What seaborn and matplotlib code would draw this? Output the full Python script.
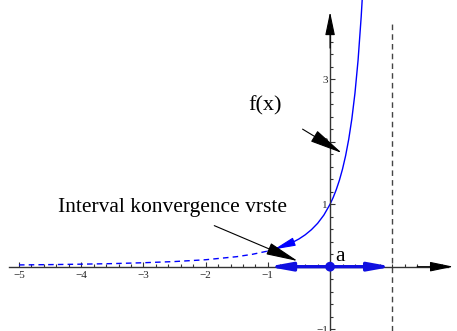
import numpy as np
import pandas as pd
import seaborn as sns
import matplotlib.pyplot as plt
from matplotlib.ticker import FixedLocator

# f(x): dashed left of -1, solid from -1 upward
x_dash = [-5.0, -4.5, -4.0, -3.5, -3.0, -2.5, -2.0, -1.5, -1.25, -1.0]
y_dash = [0.028, 0.033, 0.040, 0.049, 0.063, 0.082, 0.111, 0.160, 0.198, 0.250]
x_solid = [-1.0, -0.9, -0.8, -0.7, -0.6, -0.5, -0.4, -0.3, -0.2, -0.1, 0.0,
           0.05, 0.1, 0.15, 0.2, 0.25, 0.3, 0.35, 0.4, 0.45, 0.5, 0.52]
y_solid = [0.250, 0.277, 0.309, 0.346, 0.391, 0.444, 0.510, 0.592, 0.694, 0.826, 1.0,
           1.108, 1.235, 1.384, 1.563, 1.778, 2.041, 2.367, 2.778, 3.306, 4.0, 4.34]

x_labels = ["\u22125", "\u22124", "\u22123", "\u22122", "\u22121"]
x_major = [-5, -4, -3, -2, -1]
y_major = [-1, 1, 2, 3]
y_labels = ["\u22121", "1", "2", "3"]
centre = 0.0
radius = 1.0

sns.set_theme(style="white")
plt.rcParams["font.family"] = ["Liberation Serif", "DejaVu Serif"]

fig = plt.figure(figsize=(4.57, 3.31), dpi=100)
ax = fig.add_axes([0, 0, 1, 1])
ax.set_xlim(-5.305, 2.04)
ax.set_ylim(-1.03, 4.27)

axis_col = "#333333"
for s in ["top", "right"]:
    ax.spines[s].set_visible(False)
ax.spines["bottom"].set_position(("data", 0))
ax.spines["left"].set_position(("data", 0))
ax.spines["bottom"].set_bounds(-5.16, 1.9)
ax.spines["left"].set_bounds(-1.03, 3.9)
for s in ["bottom", "left"]:
    ax.spines[s].set_color(axis_col)
    ax.spines[s].set_linewidth(1.0)

ax.xaxis.set_major_locator(FixedLocator(x_major))
ax.set_xticklabels(x_labels)
ax.xaxis.set_minor_locator(FixedLocator(np.round(np.arange(-5.0, 1.81, 0.2), 2)))
ax.yaxis.set_major_locator(FixedLocator(y_major))
ax.set_yticklabels(y_labels)
ax.yaxis.set_minor_locator(FixedLocator(np.round(np.arange(-1.0, 3.61, 0.2), 2)))
ax.tick_params(which="major", direction="in", length=3.8, width=0.8, color=axis_col,
               labelsize=8, pad=3)
ax.tick_params(which="minor", direction="in", length=2.4, width=0.8, color=axis_col)
ax.tick_params(axis="y", pad=1.5)
ax.xaxis.set_ticks_position("bottom")
ax.yaxis.set_ticks_position("left")

head_axis = "-|>,head_length=1.2,head_width=0.25"
# axis arrowheads
ax.annotate("", xy=(1.98, 0), xytext=(1.4, 0),
            arrowprops=dict(arrowstyle=head_axis, color="black", lw=0.8,
                            shrinkA=0, shrinkB=0))
ax.annotate("", xy=(0, 4.08), xytext=(0, 3.5),
            arrowprops=dict(arrowstyle=head_axis, color="black", lw=0.8,
                            shrinkA=0, shrinkB=0))

# asymptote / edge of convergence
ax.plot([1, 1], [-1.03, 3.94], color="#444444", lw=1.0, dashes=(4, 3))

# curve
sns.lineplot(x=x_dash, y=y_dash, ax=ax, color="blue", lw=1.0, sort=False)
ax.lines[-1].set_dashes((4, 3))
sns.lineplot(x=x_solid, y=y_solid, ax=ax, color="blue", lw=1.0, sort=False)
ax.annotate("", xy=(x_solid[1], y_solid[1]), xytext=(x_solid[4], y_solid[4]),
            arrowprops=dict(arrowstyle="-|>,head_length=1.1,head_width=0.22",
                            color="blue", lw=0.8, shrinkA=0, shrinkB=0))

# interval of convergence
for end in [centre - radius, centre + radius]:
    ax.annotate("", xy=(end, 0), xytext=(centre, 0),
                arrowprops=dict(arrowstyle="-|>,head_length=1.1,head_width=0.2",
                                color="#1010e0", lw=2.4, shrinkA=0, shrinkB=0))
sns.scatterplot(x=[centre], y=[0], ax=ax, color="#1010e0", s=50, edgecolor="none",
                zorder=5)
ax.text(0.09, 0.09, "a", fontsize=15.5, color="black")

# labels with pointers
head_lbl = "-|>,head_length=1.3,head_width=0.25"
ax.annotate("Interval konvergence vrste", xy=(-0.52, 0.09), xytext=(-2.53, 0.94),
            ha="center", va="center", fontsize=15.5, color="black",
            arrowprops=dict(arrowstyle=head_lbl, color="black", lw=0.8,
                            shrinkA=9, shrinkB=0))
ax.annotate("f(x)", xy=(0.19, 1.82), xytext=(-1.05, 2.57),
            ha="center", va="center", fontsize=16, color="black",
            arrowprops=dict(arrowstyle=head_lbl, color="black", lw=0.8,
                            shrinkA=15, shrinkB=0))

ax.set_xlabel("")
ax.set_ylabel("")
fig.savefig("out.png", dpi=100)
